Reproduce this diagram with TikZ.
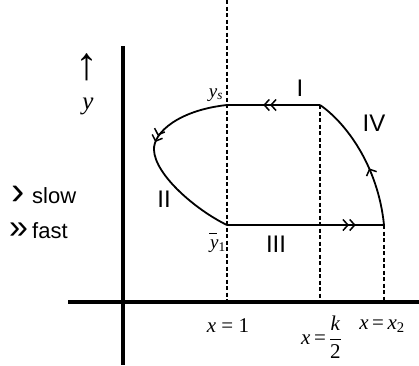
\documentclass[tikz,border=0pt]{standalone}
\usepackage{fontspec}
\usepackage{amsmath}
\newfontfamily\lsans{Liberation Sans}
\newfontfamily\tms{Liberation Serif}
\usetikzlibrary{arrows.meta,decorations.markings}
\newcommand{\vx}[1]{{\tms\itshape #1}}
\begin{document}
\begin{tikzpicture}[x=1pt,y=-1pt,
  axis/.style={line width=4.5pt},
  guide/.style={line width=1.6pt,dash pattern=on 4pt off 2.5pt},
  curve/.style={line width=1.8pt},
  lbl/.style={font=\lsans\fontsize{24}{24}\selectfont,inner sep=0pt},
  key/.style={font=\lsans\fontsize{22}{22}\selectfont,inner sep=0pt,anchor=base west},
  mlbl/.style={font=\tms\fontsize{21}{21}\selectfont,inner sep=0pt},
  dbl/.style={postaction={decorate},decoration={markings,mark=at position #1 with {\arrow{Straight Barb[length=5pt,width=11pt,line width=1.5pt] Straight Barb[length=5pt,width=11pt,line width=1.5pt]}}}},
  sgl/.style={postaction={decorate},decoration={markings,mark=at position #1 with {\arrow{Straight Barb[length=5pt,width=11pt,line width=1.5pt]}}}}
]
\useasboundingbox (0,0) rectangle (419,365);
% coordinates
\coordinate (vtop) at (123,46);
\coordinate (vbot) at (123,365);
\coordinate (hl) at (68,302);
\coordinate (hr) at (419,302);
\coordinate (ys) at (227,105);
\coordinate (y1) at (227,225);
\coordinate (k2) at (320,105);
\coordinate (x2) at (384,225);
\coordinate (d1top) at (227,0);
\coordinate (d1bot) at (227,301);
\coordinate (d2bot) at (320,301);
\coordinate (d3bot) at (384,301);
% dashed guides
\draw[guide] (d1top) -- (d1bot);
\draw[guide] (k2) -- (d2bot);
\draw[guide] (x2) -- (d3bot);
% axes
\draw[axis] (vtop) -- (vbot);
\draw[axis] (hl) -- (hr);
% cycle
\draw[curve,dbl=0.61] (k2) -- (ys);
\draw[curve,dbl=0.82] (y1) -- (x2);
\draw[curve,dbl=0.42] (ys) .. controls (180,110) and (153,132) .. (154,150)
  .. controls (155,175) and (196,210) .. (y1);
\draw[curve,sgl=0.42] (x2) .. controls (378,165) and (345,122) .. (k2);
% labels
\node[lbl] (lI) at (300,88) {I};
\node[lbl] (lIV) at (374,123) {IV};
\node[lbl] (lII) at (164,199) {II};
\node[lbl] (lIII) at (276,244) {III};
\node[mlbl,font=\tms\fontsize{19}{19}\selectfont] (lys) at (216,95) {\vx{y}$_{\text{\vx{s}}}$};
\node[mlbl,font=\tms\fontsize{19}{19}\selectfont] (ly1) at (218,243) {\makebox[0pt][l]{\hspace{-1pt}\raisebox{15pt}{\rule{8pt}{0.8pt}}}\vx{y}$_{\text{1}}$};
\node[font=\tms\fontsize{25}{25}\selectfont,inner sep=0pt,anchor=base] (lyax) at (88,109) {\vx{y}};
\node[font=\tms\fontsize{46}{46}\selectfont,inner sep=0pt,text depth=0pt,anchor=base] (lup) at (87,79) {\symbol{"2191}};
\node[key] (kslow) at (11,203) {\makebox[21pt][l]{\raisebox{-1pt}{\fontsize{40}{40}\selectfont\symbol{"203A}}}slow};
\node[key] (kfast) at (9,238) {\makebox[23pt][l]{\fontsize{34}{34}\selectfont\symbol{"00BB}}fast};
\node[mlbl] (lx1) at (228,326) {\vx{x} = 1};
\node[mlbl,anchor=west] (lxk) at (301,337) {\vx{x}\,=\hspace{3pt}$\dfrac{\text{\vx{k}}}{\text{2}}$};
\node[mlbl] (lx2) at (382,326) {\vx{x}\,=\,\vx{x}$_{\text{2}}$};
\end{tikzpicture}
\end{document}
